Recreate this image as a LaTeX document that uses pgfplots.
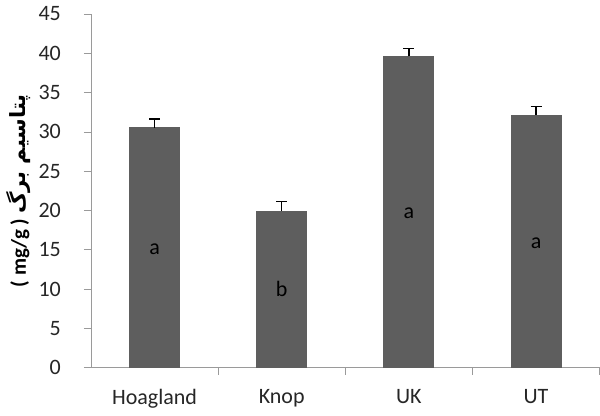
\documentclass[border=0pt]{standalone}
\usepackage{fontspec}
\setmainfont{Carlito}
\newfontfamily\arabicfont[Script=Arabic]{DejaVu Sans}
\TeXXeTstate=1
\usepackage{pgfplots}
\pgfplotsset{compat=1.18}
\definecolor{barfill}{HTML}{5E5E5E}
\definecolor{axgray}{HTML}{9A9A9A}
\begin{document}
\begin{tikzpicture}
\begin{axis}[
  scale only axis,
  width=254.5pt, height=177pt,
  xmin=-0.5, xmax=3.5,
  ymin=0, ymax=45,
  ytick={0,5,...,45},
  xtick={0,1,2,3},
  xticklabels={Hoagland, Knop, UK, UT},
  minor xtick={0.5,1.5,2.5,3.5},
  axis x line*=bottom,
  axis y line*=left,
  axis line style={axgray, -},
  major x tick style={draw=none},
  minor tick length=3.5pt,
  major tick length=3.5pt,
  tick style={axgray},
  tick align=outside,
  /pgf/number format/assume math mode=true,
  tick label style={font=\fontsize{11}{13}\selectfont, text=black!85},
  yticklabel style={xshift=-8pt},
  xticklabel style={yshift=-4pt},
  ylabel={\bfseries ( mg/g ) {\arabicfont\bfseries\beginR پتاسیم برگ\endR}},
  ylabel style={font=\fontsize{10.5}{12}\selectfont, yshift=-3pt},
  clip=false,
]
\addplot[ybar, bar width=25pt, fill=barfill, draw=barfill,
  error bars/.cd, y dir=plus, y explicit,
  error mark=|,
  error bar style={black, line width=0.8pt},
  error mark options={black, line width=0.8pt, mark size=2.75pt}]
  coordinates {
    (0,30.5) +- (0,1.1)
    (1,19.9) +- (0,1.2)
    (2,39.6) +- (0,1.0)
    (3,32.1) +- (0,1.1)
  };
\addplot[draw=none, mark=none,
  nodes near coords, point meta=explicit symbolic,
  every node near coord/.append style={anchor=center, font=\fontsize{11}{13}\selectfont, text=black}]
  coordinates {
    (0,15.1) [a]
    (1,10.0) [b]
    (2,19.6) [a]
    (3,15.8) [a]
  };
\end{axis}
\end{tikzpicture}
\end{document}
